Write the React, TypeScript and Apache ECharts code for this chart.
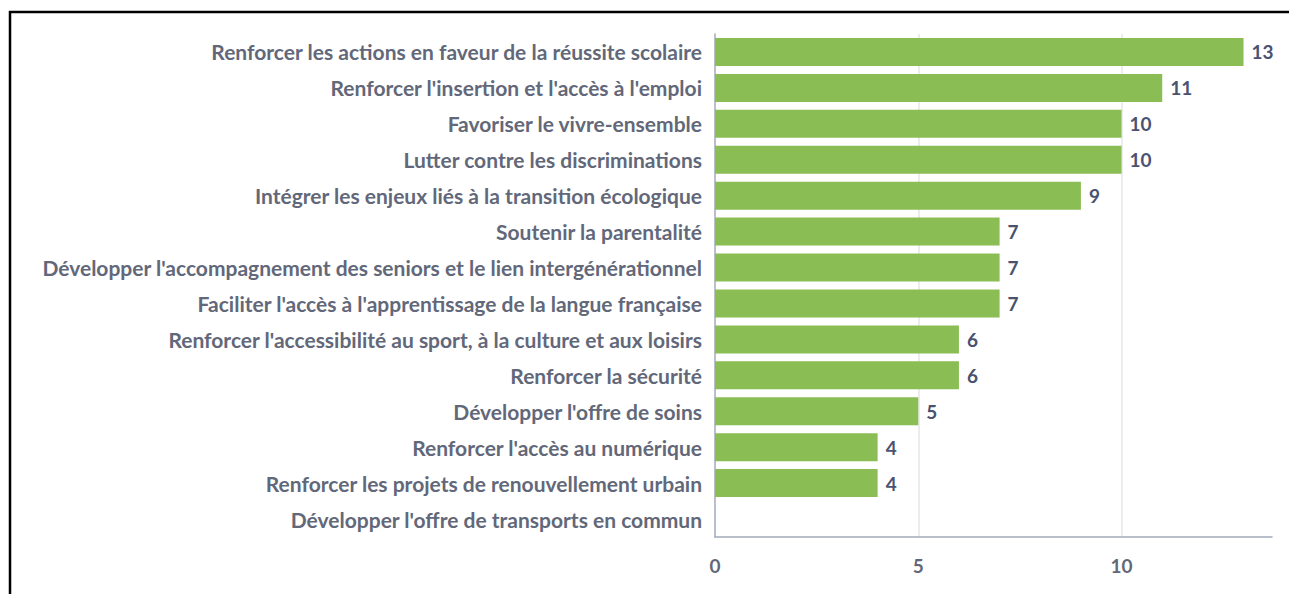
import React, { useEffect, useRef } from "react";
import * as echarts from "echarts";

const categories = [
  "Renforcer les actions en faveur de la réussite scolaire",
  "Renforcer l'insertion et l'accès à l'emploi",
  "Favoriser le vivre-ensemble",
  "Lutter contre les discriminations",
  "Intégrer les enjeux liés à la transition écologique",
  "Soutenir la parentalité",
  "Développer l'accompagnement des seniors et le lien intergénérationnel",
  "Faciliter l'accès à l'apprentissage de la langue française",
  "Renforcer l'accessibilité au sport, à la culture et aux loisirs",
  "Renforcer la sécurité",
  "Développer l'offre de soins",
  "Renforcer l'accès au numérique",
  "Renforcer les projets de renouvellement urbain",
  "Développer l'offre de transports en commun",
];
const values = [13, 11, 10, 10, 9, 7, 7, 7, 6, 6, 5, 4, 4, 0];

export default function App() {
  const ref = useRef<HTMLDivElement>(null);
  useEffect(() => {
    const chart = echarts.init(ref.current!, null, { renderer: "svg" });
    chart.setOption({
      animation: false,
      textStyle: { fontFamily: "Lato" },
      graphic: [
        {
          type: "polyline",
          shape: { points: [[10, 700], [10, 12], [1400, 12]] },
          style: { fill: "none", stroke: "#000", lineWidth: 2.5 },
        },
      ],
      grid: { left: 715, right: 17, top: 34, bottom: 57, containLabel: false },
      xAxis: {
        type: "value",
        min: 0,
        max: 13.7,
        interval: 5,
        axisLine: { show: true, lineStyle: { color: "#a3aabb", width: 1.5 } },
        axisTick: { show: false },
        splitLine: {
          show: true,
          showMinLine: false,
          showMaxLine: false,
          lineStyle: { color: "#e6e6e6", width: 1.5 },
        },
        axisLabel: {
          showMaxLabel: false,
          color: "#626879",
          fontWeight: "bold",
          fontSize: 19,
          margin: 19,
          fontFamily: "Lato",
        },
      },
      yAxis: {
        type: "category",
        inverse: true,
        data: categories,
        axisLine: { show: true, lineStyle: { color: "#a3aabb", width: 1.5 } },
        axisTick: { show: false },
        axisLabel: {
          color: "#626879",
          fontWeight: "bold",
          fontSize: 21,
          margin: 13,
          fontFamily: "Lato",
        },
      },
      series: [
        {
          type: "bar",
          data: values,
          barCategoryGap: "22%",
          itemStyle: { color: "#8bbd55" },
          label: {
            show: true,
            position: "right",
            distance: 8,
            color: "#4a5270",
            fontWeight: "bold",
            fontSize: 19,
            fontFamily: "Lato",
            formatter: (p: any) => (p.value ? String(p.value) : ""),
          },
        },
      ],
    });
    return () => chart.dispose();
  }, []);
  return (
    <div
      ref={ref}
      style={{ position: "absolute", left: 0, top: 0, width: 1289, height: 594 }}
    />
  );
}
